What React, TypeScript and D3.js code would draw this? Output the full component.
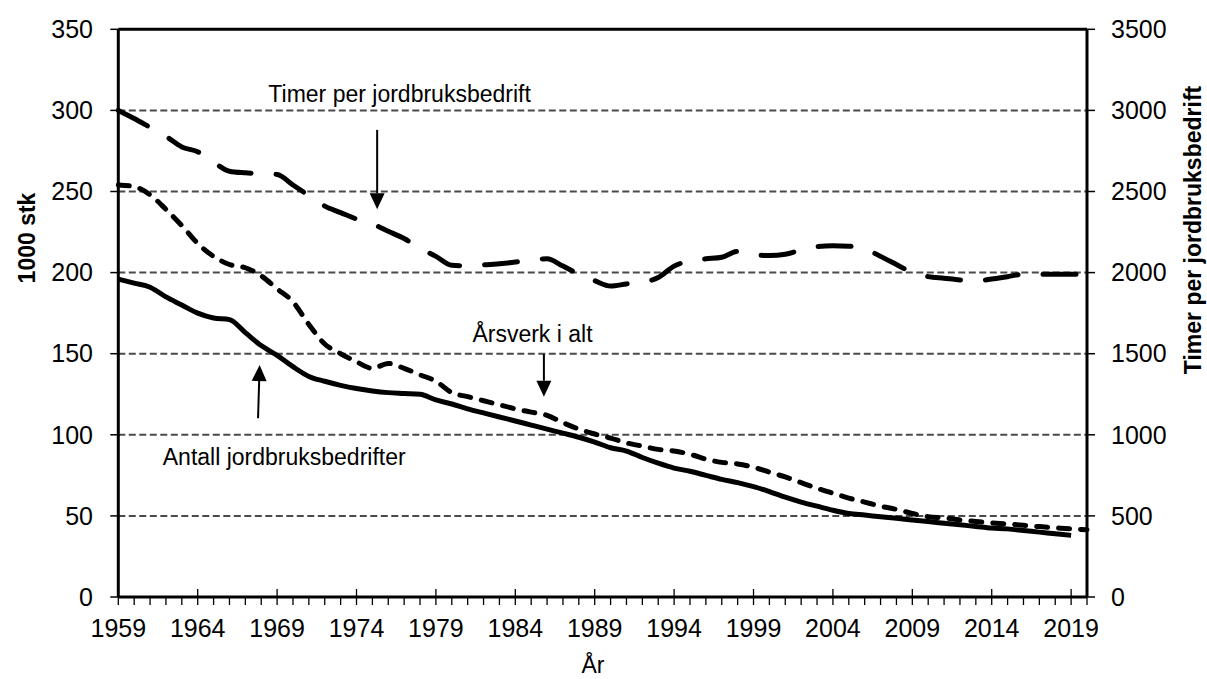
import React from "react";
import * as d3 from "d3";

const years: number[] = d3.range(1959, 2021);

// Antall jordbruksbedrifter (1000 stk), 1959–2019
const antall: number[] = [
  196, 193.5, 191, 185, 180, 175, 172, 171, 163, 155,
  149, 142, 136, 133, 130.5, 128.5, 127, 126, 125.5, 125,
  121.5, 119, 116, 113.5, 111, 108.5, 106, 103.5, 101, 98.5,
  95.5, 92, 90, 86, 82.5, 79.5, 77.5, 75, 72.5, 70.5,
  68, 65, 61.5, 58.5, 56, 53.5, 51.5, 50.5, 49.5, 48.5,
  47.5, 46.5, 45.5, 44.5, 43.5, 42.5, 42, 41, 40, 39,
  38,
];

// Årsverk i alt (1000), 1959–2020
const arsverk: number[] = [
  254, 253, 248, 239, 229, 218, 210, 205, 203, 198,
  190, 182, 168, 156, 150, 145, 141, 144, 141, 137,
  133, 126, 123.5, 121, 118.5, 116, 114, 112, 107.5, 103.5,
  100.5, 98, 95, 93, 91, 90, 88, 85, 83, 82,
  80, 77, 74, 70.5, 67, 64, 61, 58.5, 56, 54,
  51.5, 49.5, 48.7, 47.5, 46.5, 45.7, 45, 44.2, 43.4, 42.7,
  42, 41.5,
];

// Timer per jordbruksbedrift, 1959–2020 (right axis)
const timer: number[] = [
  3000, 2950, 2895, 2840, 2775, 2745, 2680, 2625, 2615, 2610,
  2605, 2540, 2475, 2410, 2370, 2330, 2300, 2255, 2210, 2150,
  2100, 2045, 2042, 2048, 2055, 2065, 2080, 2085, 2040, 1990,
  1950, 1917, 1930, 1940, 1970, 2040, 2073, 2085, 2095, 2130,
  2110, 2105, 2113, 2140, 2160, 2165, 2163, 2147, 2100, 2050,
  2000, 1975, 1965, 1955, 1950, 1960, 1975, 1990, 1990, 1990,
  1990, 1990,
];

const leftTicks: number[] = [0, 50, 100, 150, 200, 250, 300, 350];
const rightTicks: number[] = [0, 500, 1000, 1500, 2000, 2500, 3000, 3500];
const xLabelYears: number[] = [1959, 1964, 1969, 1974, 1979, 1984, 1989, 1994, 1999, 2004, 2009, 2014, 2019];

const FONT = "'Liberation Sans', Arial, Helvetica, sans-serif";

export default function App() {
  const W = 1207;
  const H = 679;
  const x0 = 118.3;
  const x1 = 1087;
  const yTop = 29.3;
  const yBot = 597;

  const x = d3.scaleLinear().domain([1959, 2020]).range([x0, x1]);
  const yL = d3.scaleLinear().domain([0, 350]).range([yBot, yTop]);
  const yR = d3.scaleLinear().domain([0, 3500]).range([yBot, yTop]);

  const lineL = d3
    .line<[number, number]>()
    .x((d) => x(d[0]))
    .y((d) => yL(d[1]))
    .curve(d3.curveMonotoneX);
  const lineR = d3
    .line<[number, number]>()
    .x((d) => x(d[0]))
    .y((d) => yR(d[1]))
    .curve(d3.curveMonotoneX);

  const antallPts = antall.map((v, i) => [years[i], v] as [number, number]);
  const arsverkPts = arsverk.map((v, i) => [years[i], v] as [number, number]);
  const timerPts = timer.map((v, i) => [years[i], v] as [number, number]);

  const arrow = (xa: number, ya: number, xb: number, yb: number, key: string) => {
    const dx = xb - xa;
    const dy = yb - ya;
    const len = Math.sqrt(dx * dx + dy * dy);
    const ux = dx / len;
    const uy = dy / len;
    const headL = 16;
    const headW = 7.5;
    const bx = xb - ux * headL;
    const by = yb - uy * headL;
    const px = -uy;
    const py = ux;
    return (
      <g key={key}>
        <line x1={xa} y1={ya} x2={bx} y2={by} stroke="#000" strokeWidth={2} />
        <polygon
          points={`${xb},${yb} ${bx + px * headW},${by + py * headW} ${bx - px * headW},${by - py * headW}`}
          fill="#000"
        />
      </g>
    );
  };

  return (
    <svg
      width={W}
      height={H}
      style={{ position: "absolute", left: 0, top: 0, background: "#fff" }}
      fontFamily={FONT}
    >
      <rect x={0} y={0} width={W} height={H} fill="#fff" />
      {leftTicks
        .filter((t) => t > 0 && t < 350)
        .map((t) => (
          <line
            key={"g" + t}
            x1={x0}
            x2={x1}
            y1={yL(t)}
            y2={yL(t)}
            stroke="#4a4a4a"
            strokeWidth={2}
            strokeDasharray="7,3.5"
          />
        ))}

      <path
        d={lineR(timerPts) || ""}
        fill="none"
        stroke="#000"
        strokeWidth={5}
        strokeLinecap="round"
        strokeDasharray="33,25"
      />
      <path
        d={lineL(arsverkPts) || ""}
        fill="none"
        stroke="#000"
        strokeWidth={5}
        strokeLinecap="round"
        strokeDasharray="11,11"
      />
      <path d={lineL(antallPts) || ""} fill="none" stroke="#000" strokeWidth={5} strokeLinecap="butt" />

      <line x1={x0} x2={x1} y1={yTop} y2={yTop} stroke="#000" strokeWidth={3} />
      <line x1={x0} x2={x0} y1={yTop} y2={yBot} stroke="#000" strokeWidth={3} />
      <line x1={x1} x2={x1} y1={yTop} y2={yBot} stroke="#000" strokeWidth={3} />
      <line x1={x0} x2={x1} y1={yBot} y2={yBot} stroke="#000" strokeWidth={3} />

      {leftTicks.map((t) => (
        <g key={"l" + t}>
          <line x1={x0 - 8} x2={x0} y1={yL(t)} y2={yL(t)} stroke="#000" strokeWidth={1.5} />
          <text x={93} y={yL(t)} dy="0.35em" textAnchor="end" fontSize={25} fill="#000">
            {t}
          </text>
        </g>
      ))}
      {rightTicks.map((t) => (
        <g key={"r" + t}>
          <line x1={x1} x2={x1 + 8} y1={yR(t)} y2={yR(t)} stroke="#000" strokeWidth={1.5} />
          <text x={1111} y={yR(t)} dy="0.35em" textAnchor="start" fontSize={25} fill="#000">
            {t}
          </text>
        </g>
      ))}
      {years.map((yr) => {
        const major = (yr - 1959) % 5 === 0;
        return (
          <line
            key={"x" + yr}
            x1={x(yr)}
            x2={x(yr)}
            y1={major ? yBot - 8 : yBot}
            y2={yBot + 8}
            stroke="#000"
            strokeWidth={1.3}
          />
        );
      })}
      {xLabelYears.map((yr) => (
        <text key={"xl" + yr} x={x(yr)} y={637} textAnchor="middle" fontSize={25} fill="#000">
          {yr}
        </text>
      ))}

      <text x={593} y={673} textAnchor="middle" fontSize={23} fill="#000">
        År
      </text>
      <text transform={`translate(35,238) rotate(-90)`} textAnchor="middle" fontSize={23} fontWeight="bold" fill="#000">
        1000 stk
      </text>
      <text
        transform={`translate(1201,230) rotate(-90)`}
        textAnchor="middle"
        fontSize={23}
        fontWeight="bold"
        fill="#000"
      >
        Timer per jordbruksbedrift
      </text>

      <text x={x(1968.45)} y={yL(305.4)} fontSize={23} fill="#000">
        Timer per jordbruksbedrift
      </text>
      {arrow(x(1975.3), yL(288), x(1975.3), yL(239), "a1")}
      <text x={x(1981.3)} y={yL(157.4)} fontSize={23} fill="#000">
        Årsverk i alt
      </text>
      {arrow(x(1985.8), yL(149.8), x(1985.8), yL(123.5), "a2")}
      <text x={x(1961.8)} y={yL(81.4)} fontSize={23} fill="#000">
        Antall jordbruksbedrifter
      </text>
      {arrow(x(1967.8), yL(110.2), x(1967.9), yL(143), "a3")}
    </svg>
  );
}
